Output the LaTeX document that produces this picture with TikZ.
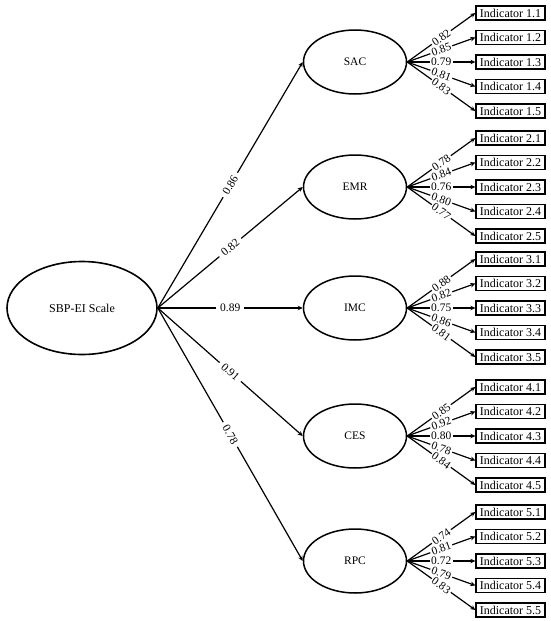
\documentclass[tikz,border=0pt]{standalone}
\usepackage{fontspec}
\setmainfont{Liberation Serif}
\usetikzlibrary{arrows.meta,shapes.geometric}

\begin{document}
\begin{tikzpicture}[
  x=1pt, y=-1pt,
  big/.style={ellipse, draw=black, line width=1.6pt, minimum width=150pt,
              minimum height=93pt, font=\fontsize{12}{14}\selectfont},
  lat/.style={ellipse, draw=black, line width=1.5pt, minimum width=103pt,
              minimum height=64pt, inner sep=0pt, font=\fontsize{11.5}{13}\selectfont},
  ind/.style={rectangle, draw=black, line width=1.3pt, minimum width=69pt,
              minimum height=14pt, inner sep=1pt, font=\fontsize{12}{14}\selectfont},
  main/.style={-{Stealth[length=5pt,width=4.5pt]}, line width=1.2pt, draw=black},
  load/.style={-{Stealth[length=5pt,width=4.5pt]}, line width=1.2pt, draw=black},
  coef/.style={midway, sloped, fill=white, inner sep=4pt,
               font=\fontsize{11.5}{13}\selectfont},
  lcoef/.style={midway, sloped, fill=white, inner sep=1.5pt,
                font=\fontsize{11.5}{13}\selectfont}
]
\useasboundingbox (0,0) rectangle (550,621);

% second-order factor
\node[big] (scale) at (82,308) {SBP-EI Scale};

% first-order factors
\node[lat] (sac) at (355,62)  {SAC};
\node[lat] (emr) at (355,187) {EMR};
\node[lat] (imc) at (355,308) {IMC};
\node[lat] (ces) at (355,436) {CES};
\node[lat] (rpc) at (355,561) {RPC};

\draw[main] (scale.east) -- node[coef] {0.86} (sac.west);
\draw[main] (scale.east) -- node[coef] {0.82} (emr.west);
\draw[main] (scale.east) -- node[coef] {0.89} (imc.west);
\draw[main] (scale.east) -- node[coef] {0.91} (ces.west);
\draw[main] (scale.east) -- node[coef] {0.78} (rpc.west);

% indicators
\node[ind] (i11) at (510.5,13)    {Indicator 1.1};
\node[ind] (i12) at (510.5,37.5)  {Indicator 1.2};
\node[ind] (i13) at (510.5,62)    {Indicator 1.3};
\node[ind] (i14) at (510.5,86.5)  {Indicator 1.4};
\node[ind] (i15) at (510.5,111)   {Indicator 1.5};

\node[ind] (i21) at (510.5,138)   {Indicator 2.1};
\node[ind] (i22) at (510.5,162.5) {Indicator 2.2};
\node[ind] (i23) at (510.5,187)   {Indicator 2.3};
\node[ind] (i24) at (510.5,211.5) {Indicator 2.4};
\node[ind] (i25) at (510.5,236)   {Indicator 2.5};

\node[ind] (i31) at (510.5,259)   {Indicator 3.1};
\node[ind] (i32) at (510.5,283.5) {Indicator 3.2};
\node[ind] (i33) at (510.5,308)   {Indicator 3.3};
\node[ind] (i34) at (510.5,332.5) {Indicator 3.4};
\node[ind] (i35) at (510.5,357)   {Indicator 3.5};

\node[ind] (i41) at (510.5,387)   {Indicator 4.1};
\node[ind] (i42) at (510.5,411.5) {Indicator 4.2};
\node[ind] (i43) at (510.5,436)   {Indicator 4.3};
\node[ind] (i44) at (510.5,460.5) {Indicator 4.4};
\node[ind] (i45) at (510.5,485)   {Indicator 4.5};

\node[ind] (i51) at (510.5,512)   {Indicator 5.1};
\node[ind] (i52) at (510.5,536.5) {Indicator 5.2};
\node[ind] (i53) at (510.5,561)   {Indicator 5.3};
\node[ind] (i54) at (510.5,585.5) {Indicator 5.4};
\node[ind] (i55) at (510.5,610)   {Indicator 5.5};

% loadings
\draw[load] (sac.east) -- node[lcoef] {0.82} (i11.west);
\draw[load] (sac.east) -- node[lcoef] {0.85} (i12.west);
\draw[load] (sac.east) -- node[lcoef] {0.79} (i13.west);
\draw[load] (sac.east) -- node[lcoef] {0.81} (i14.west);
\draw[load] (sac.east) -- node[lcoef] {0.83} (i15.west);

\draw[load] (emr.east) -- node[lcoef] {0.78} (i21.west);
\draw[load] (emr.east) -- node[lcoef] {0.84} (i22.west);
\draw[load] (emr.east) -- node[lcoef] {0.76} (i23.west);
\draw[load] (emr.east) -- node[lcoef] {0.80} (i24.west);
\draw[load] (emr.east) -- node[lcoef] {0.77} (i25.west);

\draw[load] (imc.east) -- node[lcoef] {0.88} (i31.west);
\draw[load] (imc.east) -- node[lcoef] {0.82} (i32.west);
\draw[load] (imc.east) -- node[lcoef] {0.75} (i33.west);
\draw[load] (imc.east) -- node[lcoef] {0.86} (i34.west);
\draw[load] (imc.east) -- node[lcoef] {0.81} (i35.west);

\draw[load] (ces.east) -- node[lcoef] {0.85} (i41.west);
\draw[load] (ces.east) -- node[lcoef] {0.92} (i42.west);
\draw[load] (ces.east) -- node[lcoef] {0.80} (i43.west);
\draw[load] (ces.east) -- node[lcoef] {0.78} (i44.west);
\draw[load] (ces.east) -- node[lcoef] {0.84} (i45.west);

\draw[load] (rpc.east) -- node[lcoef] {0.74} (i51.west);
\draw[load] (rpc.east) -- node[lcoef] {0.81} (i52.west);
\draw[load] (rpc.east) -- node[lcoef] {0.72} (i53.west);
\draw[load] (rpc.east) -- node[lcoef] {0.79} (i54.west);
\draw[load] (rpc.east) -- node[lcoef] {0.83} (i55.west);
\end{tikzpicture}
\end{document}
